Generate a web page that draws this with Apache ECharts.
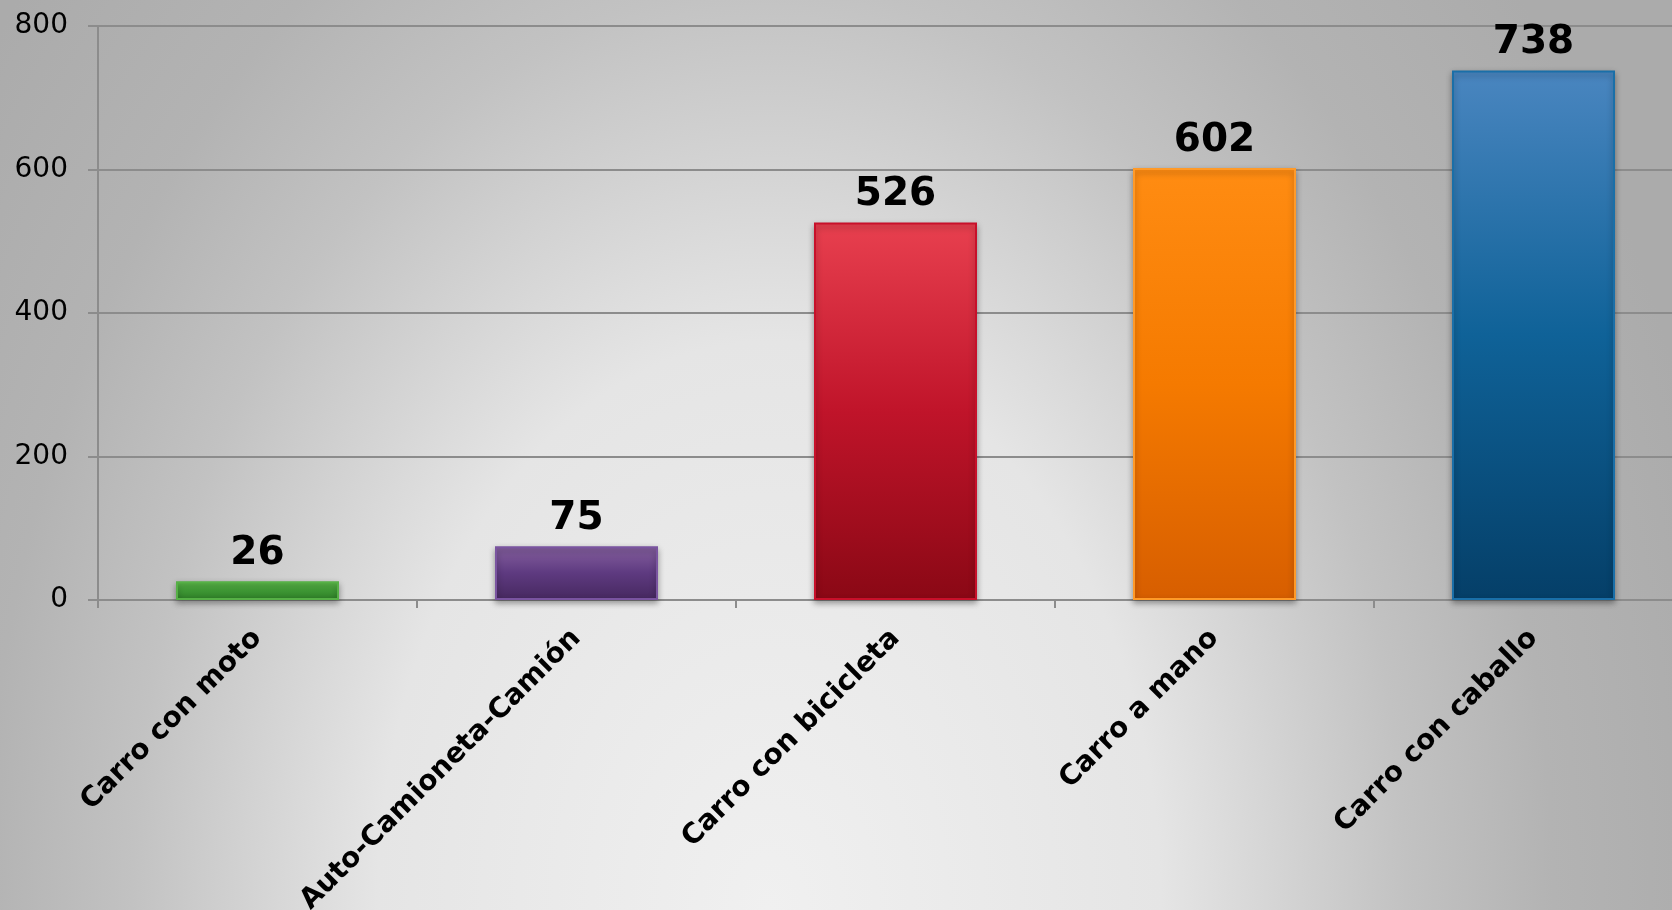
<!DOCTYPE html>
<html>
<head>
<meta charset="utf-8">
<script src="https://cdn.jsdelivr.net/npm/echarts@6/dist/echarts.min.js"></script>
<style>
html,body{margin:0;padding:0;}
#c{width:1672px;height:910px;}
</style>
</head>
<body>
<div id="c"></div>
<script>
const categories = ['Carro con moto', 'Auto-Camioneta-Camión', 'Carro con bicicleta', 'Carro a mano', 'Carro con caballo'];
const values = [26, 75, 526, 602, 738];
const yTicks = [0, 200, 400, 600, 800];
const barTop = ['#5fbb4c', '#85609f', '#e8404f', '#ff8c12', '#4a86c0'];
const barMid = ['#3f9a35', '#5e3a80', '#c0142a', '#f57a00', '#0f6298'];
const barBot = ['#2c7a26', '#46285f', '#8a0815', '#d75e00', '#053f68'];
const barEdge = ['#56b046', '#7a54a0', '#c8102a', '#ff9a28', '#1a6fa8'];

const chart = echarts.init(document.getElementById('c'));
const font = 'DejaVu Sans';
const W = 1672, H = 910, K = 1.45;

chart.setOption({
  animation: false,
  backgroundColor: '#c0c0c0',
  graphic: [{
    type: 'rect', z: -100, silent: true,
    x: 0, y: 0, scaleY: K,
    shape: {x: 0, y: 0, width: W, height: H / K},
    style: {
      fill: {
        type: 'radial', global: true, x: W * 0.46, y: H / K, r: 980,
        colorStops: [
          {offset: 0, color: '#f0f0f0'},
          {offset: 0.4, color: '#e5e5e5'},
          {offset: 0.65, color: '#c2c2c2'},
          {offset: 0.8, color: '#b3b3b3'},
          {offset: 1, color: '#ababab'}
        ]
      }
    }
  }],
  grid: {left: 98, top: 26, width: 1595, height: 574, outerBoundsMode: 'none', containLabel: false},
  xAxis: {
    type: 'category',
    data: categories,
    axisLine: {show: true, lineStyle: {color: '#8c8c8c', width: 2}},
    axisTick: {show: true, length: 8, lineStyle: {color: '#8c8c8c', width: 2}},
    axisLabel: {
      rotate: 45, margin: 34, interval: 0,
      fontFamily: font, fontWeight: 'bold', fontSize: 28, color: '#000'
    }
  },
  yAxis: {
    type: 'value', min: yTicks[0], max: yTicks[yTicks.length - 1], interval: 200,
    axisLine: {show: true, lineStyle: {color: '#8c8c8c', width: 2}},
    axisTick: {show: true, length: 10, lineStyle: {color: '#8c8c8c', width: 2}},
    splitLine: {show: true, lineStyle: {color: '#8c8c8c', width: 2}},
    axisLabel: {margin: 30, fontFamily: font, fontSize: 28, color: '#000'}
  },
  series: [{
    type: 'bar',
    barWidth: 163,
    data: values.map((v, i) => ({
      value: v,
      itemStyle: {
        color: {
          type: 'linear', x: 0, y: 0, x2: 0, y2: 1,
          colorStops: [
            {offset: 0, color: barTop[i]},
            {offset: 0.5, color: barMid[i]},
            {offset: 1, color: barBot[i]}
          ]
        },
        borderColor: barEdge[i],
        borderWidth: 2,
        shadowColor: 'rgba(0,0,0,0.35)',
        shadowBlur: 6,
        shadowOffsetY: 3
      }
    })),
    label: {
      show: true, position: 'top', distance: 8,
      fontFamily: font, fontWeight: 'bold', fontSize: 39, color: '#000'
    }
  }]
});
</script>
</body>
</html>
